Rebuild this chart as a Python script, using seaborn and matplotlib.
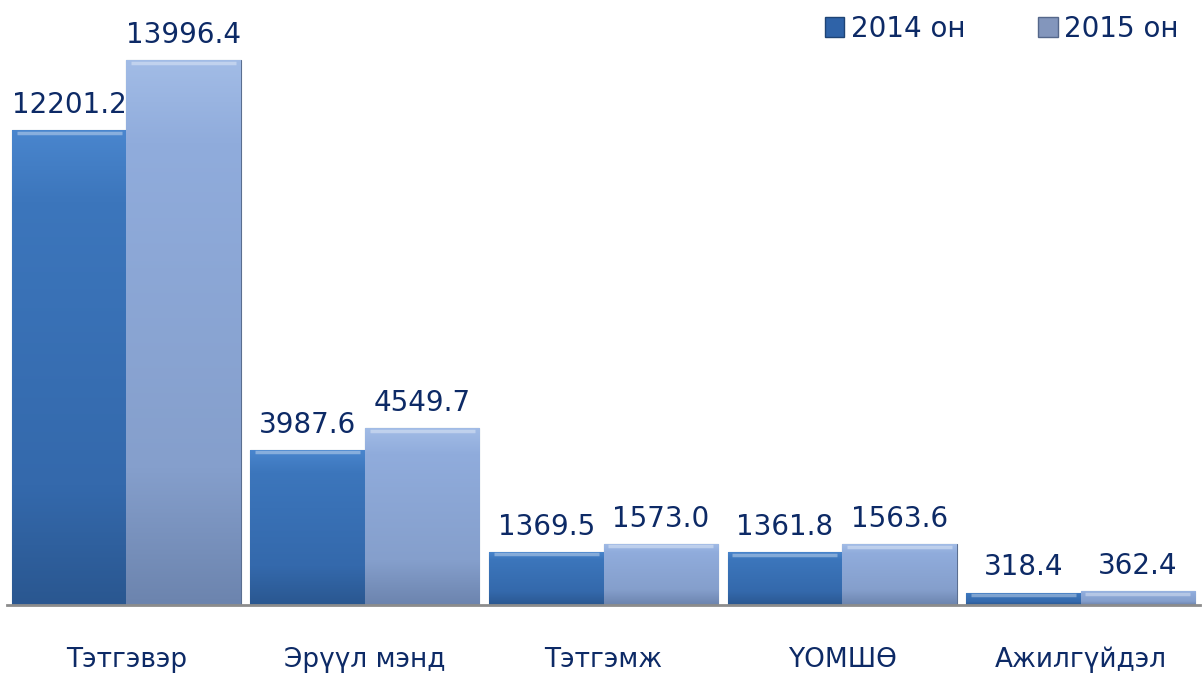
import numpy as np
import pandas as pd
import matplotlib
matplotlib.use('Agg')
import matplotlib.pyplot as plt
import seaborn as sns
from matplotlib.colors import LinearSegmentedColormap
from matplotlib.patches import Patch

# ── Data ──────────────────────────────────────────────────────────────────────
categories = ["Тэтгэвэр", "Эрүүл мэнд", "Тэтгэмж", "ҮОМШӨ", "Ажилгүйдэл"]
years = ["2014 он", "2015 он"]
values_2014 = [12201.2, 3987.6, 1369.5, 1361.8, 318.4]
values_2015 = [13996.4, 4549.7, 1573.0, 1563.6, 362.4]

df = pd.DataFrame({
    "cat": categories * 2,
    "year": [years[0]] * 5 + [years[1]] * 5,
    "value": values_2014 + values_2015,
})

navy = "#0D2A66"
base_cols = {years[0]: "#3A72B8", years[1]: "#8EA9D8"}
grads = {
    years[0]: [(0, "#4A86CE"), (0.15, "#3C76BC"), (0.75, "#3469AC"), (1, "#2A5790")],
    years[1]: [(0, "#A2BCE6"), (0.15, "#90ACDC"), (0.75, "#859FCC"), (1, "#6C84AE")],
}

sns.set_style("white")
plt.rcParams['font.family'] = ['DejaVu Sans']

fig = plt.figure(figsize=(12.04, 6.77), dpi=100)
ax = fig.add_axes([7 / 1204, 72 / 677, 1193 / 1204, 605 / 677])

sns.barplot(data=df, x="cat", y="value", hue="year", order=categories,
            hue_order=years, palette=base_cols, width=0.96, gap=0,
            saturation=1, ax=ax, legend=False)

ax.set_ylim(0, 15540)
ax.set_xlim(-0.5, 4.5)

# gradient fill + bevel for each bar
for cont, yr in zip(ax.containers, years):
    cmap = LinearSegmentedColormap.from_list(yr, grads[yr])
    for p in cont.patches:
        x0, y0 = p.get_x(), p.get_y()
        w, h = p.get_width(), p.get_height()
        grad = np.linspace(0, 1, 256).reshape(-1, 1)
        im = ax.imshow(grad, cmap=cmap, aspect='auto', origin='upper',
                       extent=[x0, x0 + w, y0, y0 + h], zorder=p.get_zorder() + 0.1)
        im.set_clip_path(p)
        p.set_edgecolor("#5A6E90")
        p.set_linewidth(0.8)
        # top highlight
        ax.plot([x0 + 0.02, x0 + w - 0.02], [y0 + h - 70, y0 + h - 70],
                color="white", alpha=0.35, lw=2.5, zorder=p.get_zorder() + 0.2,
                solid_capstyle='butt')
    ax.bar_label(cont, labels=[f"{v:.1f}" for v in cont.datavalues],
                 padding=8, fontsize=20, color=navy)

ax.set_xlabel("")
ax.set_ylabel("")
ax.set_yticks([])
ax.tick_params(axis='x', length=0, pad=30, labelsize=19, labelcolor=navy)
for s in ["top", "right", "left"]:
    ax.spines[s].set_visible(False)
ax.spines["bottom"].set_color("#8C8C8C")
ax.spines["bottom"].set_linewidth(2)

handles = [Patch(facecolor="#2F63A8", edgecolor="#1F4475", label=years[0]),
           Patch(facecolor="#8396BC", edgecolor="#55678A", label=years[1])]
fig.legend(handles=handles, loc="upper right", bbox_to_anchor=(1.0, 1.015),
           ncol=2, frameon=False, fontsize=20, labelcolor=navy,
           handlelength=0.7, handleheight=0.7, handletextpad=0.25,
           columnspacing=2.6)

plt.savefig("out.png", dpi=100)
plt.close()
